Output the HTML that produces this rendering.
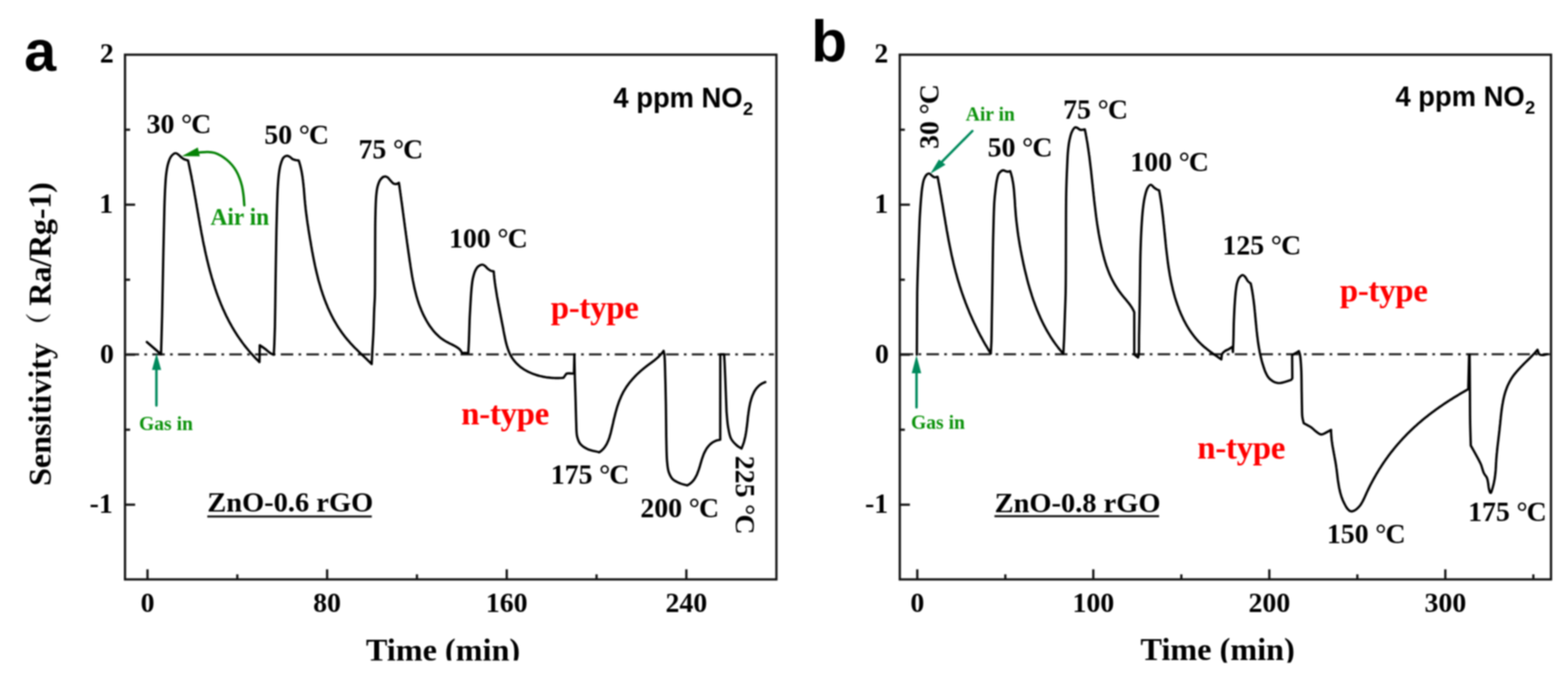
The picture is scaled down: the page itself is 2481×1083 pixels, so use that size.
<!DOCTYPE html>
<html lang="en">
<head>
<meta charset="utf-8">
<title>Sensitivity vs Time — ZnO-rGO NO2 sensing</title>
<style>
html, body { margin: 0; padding: 0; background: #ffffff; }
body { width: 2481px; height: 1083px; overflow: hidden; }
svg { display: block; filter: blur(0.8px); }
.s { font-family: "Liberation Serif", "Noto Serif CJK SC", serif; font-weight: bold; }
.h { font-family: "Liberation Sans", "DejaVu Sans", sans-serif; font-weight: bold; }
.tk { font-size: 44px; }
.lab { font-size: 44px; }
.ax { fill: none; stroke: #151515; stroke-width: 3.6; }
.tick { stroke: #151515; stroke-width: 3.6; }
.zero { stroke: #1e1e1e; stroke-width: 3.2; stroke-dasharray: 19.8 8.35 4.2 8.3; }
.curve { fill: none; stroke: #000000; stroke-width: 3.7; stroke-linejoin: round; stroke-linecap: round; }
.red { fill: #ff0000; }
.grn { fill: #0d930d; }
</style>
</head>
<body>
<svg width="2481" height="1083" viewBox="0 0 2481 1083">
<rect x="0" y="0" width="2481" height="1083" fill="#ffffff"/>

<!-- ===================== PANEL A ===================== -->
<g id="panel-a">
  <text class="h" x="38.3" y="111.8" font-size="91">a</text>

  <!-- zero line -->
  <line class="zero" x1="199.5" y1="561.2" x2="1224.5" y2="561.2" stroke-dashoffset="-0.8"/>

  <!-- data curve -->
  <path class="curve" d="M232.3,541.5 L254.8,561.0 C255.4,540.7 256.0,522.8 256.5,500.0 C257.2,470.8 257.8,430.4 258.5,400.0 C259.0,374.6 259.5,349.4 260.1,330.0 C260.5,316.2 260.9,304.5 261.5,294.6 C261.9,287.5 262.2,282.1 262.9,276.2 C263.6,270.7 264.3,265.3 265.6,260.5 C266.8,256.2 268.0,251.6 270.2,248.5 C272.1,245.8 275.4,242.7 277.6,242.5 C279.3,242.3 280.7,243.7 282.2,244.8 C284.1,246.1 286.1,248.6 287.8,249.9 C289.1,250.9 290.1,251.6 291.5,252.2 C293.2,253.0 295.5,253.4 297.5,254.0 L298.1,256.4 L298.6,258.8 L299.1,261.2 L299.6,263.6 L300.1,266.1 L300.6,268.5 L301.1,270.9 L301.6,273.3 L302.1,275.8 L302.6,278.2 L303.1,280.7 L303.5,283.1 L304.0,285.6 L304.5,288.0 L304.9,290.5 L305.4,293.0 L305.8,295.4 L306.3,297.9 L306.7,300.4 L307.2,302.9 L307.6,305.3 L308.0,307.8 L308.5,310.3 L308.9,312.8 L309.4,315.3 L309.8,317.8 L310.2,320.3 L310.7,322.8 L311.1,325.3 L311.5,327.8 L312.0,330.3 L312.4,332.8 L312.8,335.3 L313.3,337.8 L313.7,340.3 L314.1,342.8 L314.6,345.3 L315.0,347.8 L315.5,350.3 L315.9,352.8 L316.3,355.3 L316.8,357.8 L317.3,360.3 L317.7,362.8 L318.2,365.3 L318.6,367.8 L319.1,370.3 L319.6,372.8 L320.1,375.3 L320.6,377.8 L321.0,380.3 L321.5,382.8 L322.0,385.3 L322.5,387.7 L323.1,390.2 L323.6,392.7 L324.1,395.2 L324.6,397.7 L325.2,400.2 L325.7,402.6 L326.3,405.1 L326.9,407.6 L327.4,410.0 L328.0,412.5 L328.6,414.9 L329.2,417.4 L329.8,419.8 L330.4,422.3 L331.1,424.7 L331.7,427.2 L332.3,429.6 L333.0,432.0 L333.7,434.4 L334.4,436.9 L335.0,439.3 L335.7,441.7 L336.5,444.1 L337.2,446.5 L337.9,448.9 L338.7,451.3 L339.5,453.6 L340.2,456.0 L341.0,458.4 L341.8,460.7 L342.6,463.1 L343.5,465.5 L344.3,467.8 L345.2,470.1 L346.1,472.5 L347.0,474.8 L347.9,477.1 L348.8,479.4 L349.7,481.7 L350.7,484.0 L351.7,486.3 L352.6,488.6 L353.7,490.8 L354.7,493.1 L355.7,495.3 L356.8,497.6 L357.8,499.8 L358.9,502.0 L360.1,504.2 L361.2,506.5 L362.3,508.7 L363.5,510.8 L364.7,513.0 L365.9,515.2 L367.1,517.4 L368.4,519.5 L369.6,521.6 L370.9,523.8 L372.2,525.9 L373.6,528.0 L374.9,530.1 L376.3,532.2 L377.7,534.3 L379.1,536.3 L380.6,538.4 L382.0,540.4 L383.5,542.5 L385.0,544.5 L386.5,546.5 L388.1,548.5 L389.7,550.5 L391.3,552.4 L392.9,554.4 L394.6,556.4 L396.2,558.3 L398.0,560.2 L399.7,562.1 L401.4,564.0 L403.2,565.9 L405.0,567.8 L406.9,569.6 L408.7,571.5 L410.6,573.3 L411.0,546.5 C413.6,548.3 416.2,550.0 418.9,552.0 C421.9,554.2 425.4,557.7 428.1,559.4 C430.0,560.5 431.5,560.9 433.2,561.7 C433.5,556.0 433.8,551.0 434.1,544.6 C434.4,536.5 434.7,528.0 435.0,516.9 C435.4,500.0 435.6,472.3 435.9,452.9 C436.1,436.8 436.4,423.4 436.6,408.6 C436.9,393.8 437.1,378.1 437.4,364.3 C437.7,352.1 438.0,341.1 438.3,330.0 C438.6,319.5 438.9,308.8 439.4,299.3 C439.9,291.0 440.3,283.1 441.2,276.2 C441.9,270.4 442.6,265.2 444.0,260.5 C445.2,256.4 446.5,251.7 448.6,249.4 C450.1,247.7 452.4,246.7 454.2,246.6 C455.8,246.5 457.3,247.6 458.8,248.5 C460.4,249.4 461.8,251.4 463.4,252.2 C464.9,253.0 466.5,253.2 468.0,253.5 C469.5,253.8 471.1,253.8 472.6,254.0 L473.4,256.3 L474.1,258.7 L474.8,261.1 L475.4,263.5 L476.0,265.9 L476.5,268.3 L477.0,270.7 L477.5,273.1 L477.9,275.6 L478.3,278.0 L478.7,280.5 L479.0,283.0 L479.4,285.5 L479.6,287.9 L479.9,290.4 L480.2,292.9 L480.4,295.4 L480.7,297.9 L480.9,300.4 L481.1,302.9 L481.3,305.4 L481.5,308.0 L481.7,310.5 L481.9,313.0 L482.1,315.5 L482.4,318.0 L482.6,320.5 L482.8,323.0 L483.1,325.5 L483.4,328.0 L483.6,330.5 L483.9,333.0 L484.2,335.4 L484.5,337.9 L484.8,340.4 L485.2,342.9 L485.5,345.4 L485.8,347.8 L486.2,350.3 L486.5,352.8 L486.9,355.2 L487.3,357.7 L487.7,360.2 L488.0,362.7 L488.4,365.1 L488.8,367.6 L489.2,370.1 L489.6,372.5 L490.0,375.0 L490.4,377.5 L490.8,379.9 L491.3,382.4 L491.7,384.9 L492.1,387.4 L492.5,389.8 L493.0,392.3 L493.4,394.8 L493.8,397.3 L494.3,399.7 L494.8,402.2 L495.2,404.7 L495.7,407.2 L496.2,409.6 L496.7,412.1 L497.2,414.6 L497.7,417.0 L498.2,419.5 L498.7,421.9 L499.3,424.4 L499.8,426.8 L500.4,429.3 L501.0,431.7 L501.6,434.2 L502.2,436.6 L502.8,439.0 L503.4,441.5 L504.0,443.9 L504.7,446.3 L505.4,448.7 L506.1,451.1 L506.8,453.5 L507.5,455.9 L508.2,458.3 L509.0,460.7 L509.8,463.1 L510.5,465.5 L511.4,467.8 L512.2,470.2 L513.0,472.5 L513.9,474.9 L514.8,477.2 L515.7,479.5 L516.6,481.8 L517.6,484.1 L518.5,486.4 L519.5,488.7 L520.6,491.0 L521.6,493.2 L522.7,495.5 L523.7,497.7 L524.8,499.9 L526.0,502.1 L527.1,504.3 L528.3,506.5 L529.5,508.7 L530.8,510.8 L532.0,512.9 L533.3,515.1 L534.6,517.2 L535.9,519.3 L537.3,521.3 L538.7,523.4 L540.1,525.4 L541.5,527.4 L543.0,529.4 L544.5,531.4 L546.0,533.4 L547.6,535.3 L549.2,537.2 L550.8,539.1 L552.5,541.0 L554.1,542.9 L555.8,544.7 L557.5,546.5 L559.3,548.4 L561.0,550.2 L562.8,552.0 L564.6,553.7 L566.4,555.5 L568.2,557.3 L570.0,559.0 L571.8,560.8 L573.6,562.5 L575.4,564.2 L577.3,566.0 L579.1,567.7 L580.9,569.4 L582.7,571.2 L584.5,572.9 L586.3,574.7 L588.1,576.4 C588.5,568.6 588.9,561.2 589.3,553.1 C589.8,544.3 590.5,535.1 590.9,525.4 C591.4,514.8 591.6,502.2 592.0,492.2 C592.3,484.1 592.8,478.9 593.1,470.0 C593.5,456.7 593.4,435.7 593.5,420.0 C593.6,405.9 593.5,392.9 593.6,380.0 C593.7,367.9 593.6,356.6 593.9,345.0 C594.2,333.5 594.4,320.0 595.2,310.8 C595.8,304.5 596.2,299.8 597.5,295.1 C598.6,291.0 600.0,286.7 602.2,284.0 C603.9,281.8 606.6,279.7 608.6,279.4 C610.2,279.1 611.8,279.9 613.2,280.8 C614.9,281.9 616.3,284.3 617.9,285.9 C619.4,287.5 620.8,289.6 622.5,290.5 C623.9,291.3 625.6,291.6 627.1,291.4 C628.5,291.2 629.8,290.1 631.2,289.5 L631.6,292.0 L631.9,294.4 L632.3,296.9 L632.6,299.3 L633.0,301.8 L633.3,304.3 L633.7,306.7 L634.0,309.2 L634.4,311.7 L634.7,314.2 L635.0,316.7 L635.4,319.1 L635.7,321.6 L636.1,324.1 L636.4,326.6 L636.7,329.1 L637.1,331.6 L637.4,334.0 L637.7,336.5 L638.1,339.0 L638.4,341.5 L638.7,344.0 L639.1,346.5 L639.4,349.0 L639.7,351.5 L640.1,354.0 L640.4,356.5 L640.7,359.0 L641.1,361.5 L641.4,364.0 L641.8,366.5 L642.1,369.0 L642.4,371.5 L642.8,374.0 L643.1,376.5 L643.5,379.0 L643.8,381.5 L644.1,384.0 L644.5,386.4 L644.8,388.9 L645.2,391.4 L645.5,393.9 L645.9,396.4 L646.2,398.9 L646.6,401.4 L647.0,403.9 L647.3,406.4 L647.7,408.9 L648.0,411.4 L648.4,413.9 L648.8,416.3 L649.2,418.8 L649.5,421.3 L649.9,423.8 L650.3,426.3 L650.7,428.7 L651.1,431.2 L651.5,433.7 L651.9,436.2 L652.3,438.6 L652.8,441.1 L653.2,443.5 L653.7,446.0 L654.2,448.4 L654.7,450.9 L655.2,453.3 L655.7,455.8 L656.3,458.2 L656.9,460.6 L657.5,463.0 L658.1,465.4 L658.7,467.8 L659.4,470.2 L660.1,472.6 L660.8,475.0 L661.6,477.4 L662.4,479.8 L663.2,482.1 L664.1,484.5 L664.9,486.8 L665.9,489.1 L666.8,491.5 L667.8,493.8 L668.8,496.1 L669.9,498.4 L671.0,500.7 L672.2,502.9 L673.4,505.2 L674.6,507.4 L675.9,509.6 L677.2,511.8 L678.6,514.0 L680.0,516.1 L681.5,518.2 L683.0,520.2 L684.5,522.2 L686.1,524.2 L687.8,526.1 L689.5,527.9 L691.3,529.7 L693.1,531.4 L694.9,533.1 L696.8,534.7 L698.8,536.2 L700.8,537.6 L702.9,539.0 L705.0,540.3 L707.2,541.5 L709.4,542.6 L711.6,543.8 L713.9,544.9 L716.1,546.0 L718.3,547.1 L720.5,548.3 L722.6,549.6 L724.7,551.0 L726.6,552.5 L728.3,554.3 L729.7,556.3 L730.9,558.6 L740.9,559.2 C741.3,552.4 741.7,546.4 742.0,538.7 C742.4,528.9 742.7,515.1 743.1,505.4 C743.4,497.8 743.8,492.4 744.2,485.0 C744.7,476.3 745.3,464.8 746.1,456.7 C746.7,450.5 747.2,445.4 748.3,440.5 C749.3,436.2 750.4,431.9 752.0,428.6 C753.3,426.0 754.5,423.6 756.4,422.0 C758.2,420.5 761.1,419.0 763.1,419.0 C764.7,419.0 766.1,420.2 767.5,421.2 C769.1,422.3 770.4,424.4 771.9,425.7 C773.3,426.9 774.8,427.9 776.4,428.6 C777.9,429.2 779.6,429.3 781.2,429.7 L781.4,432.2 L781.6,434.7 L781.9,437.2 L782.1,439.7 L782.4,442.3 L782.7,444.8 L783.0,447.3 L783.4,449.8 L783.7,452.3 L784.1,454.8 L784.5,457.3 L784.9,459.8 L785.3,462.3 L785.7,464.8 L786.1,467.3 L786.5,469.8 L787.0,472.3 L787.4,474.7 L787.9,477.2 L788.3,479.6 L788.8,482.0 L789.2,484.4 L789.7,486.8 L790.1,489.2 L790.6,491.6 L791.0,494.0 L791.5,496.4 L792.0,498.8 L792.4,501.2 L792.9,503.6 L793.4,506.1 L793.8,508.5 L794.3,510.9 L794.8,513.4 L795.3,515.9 L795.8,518.4 L796.3,520.9 L796.7,523.5 L797.2,526.0 L797.7,528.7 L798.3,531.3 L798.8,533.9 L799.3,536.5 L799.9,539.2 L800.5,541.8 L801.2,544.4 L801.9,547.0 L802.7,549.6 L803.5,552.1 L804.4,554.6 L805.3,557.0 L806.3,559.3 L807.4,561.6 L808.6,563.8 L809.9,566.0 L811.2,568.0 L812.7,570.0 L814.2,571.9 L815.8,573.8 L817.5,575.6 L819.2,577.2 L821.0,578.9 L822.8,580.4 L824.8,581.9 L826.7,583.3 L828.8,584.7 L830.9,586.0 L833.0,587.2 L835.2,588.3 L837.4,589.4 L839.7,590.4 L842.0,591.4 L844.3,592.3 L846.7,593.1 L849.1,593.9 L851.5,594.6 L853.9,595.3 L856.4,595.8 L858.9,596.4 L861.4,596.8 L863.9,597.3 L866.4,597.6 L869.0,597.9 L871.5,598.2 L874.0,598.3 L876.6,598.5 L879.1,598.6 L881.6,598.6 L884.2,598.6 L886.7,598.5 L889.1,598.4 L891.6,598.2 L895.0,593.2 C895.5,592.6 895.7,591.9 896.6,591.5 C898.6,590.6 904.3,591.5 908.2,591.5 L908.8,561.0 C909.1,573.9 909.3,587.4 909.6,599.8 C909.9,611.3 910.4,621.9 910.7,633.0 C911.0,644.1 911.3,655.2 911.6,666.3 C912.1,674.6 911.6,684.6 913.2,691.2 C914.3,695.9 915.6,699.5 918.2,702.8 C921.0,706.3 925.3,708.9 929.8,711.1 C935.0,713.6 942.0,714.4 948.1,716.1 L950.2,714.7 L952.1,713.2 L953.9,711.5 L955.5,709.7 L957.0,707.8 L958.3,705.8 L959.6,703.7 L960.7,701.6 L961.7,699.3 L962.7,697.0 L963.6,694.7 L964.4,692.3 L965.1,689.8 L965.8,687.4 L966.5,684.9 L967.1,682.3 L967.7,679.8 L968.3,677.3 L968.9,674.7 L969.5,672.1 L970.1,669.6 L970.6,667.1 L971.2,664.5 L971.8,662.0 L972.5,659.5 L973.1,657.0 L973.7,654.5 L974.4,652.0 L975.1,649.5 L975.8,647.0 L976.5,644.6 L977.3,642.2 L978.1,639.8 L978.9,637.4 L979.8,635.0 L980.7,632.7 L981.7,630.4 L982.7,628.1 L983.7,625.8 L984.8,623.6 L985.9,621.4 L987.1,619.2 L988.4,617.1 L989.7,615.0 L991.0,612.9 L992.4,610.9 L993.9,608.8 L995.3,606.9 L996.9,604.9 L998.5,603.0 L1000.1,601.1 L1001.7,599.2 L1003.4,597.4 L1005.1,595.6 L1006.9,593.8 L1008.7,592.0 L1010.5,590.3 L1012.4,588.6 L1014.3,586.9 L1016.2,585.3 L1018.1,583.7 L1020.1,582.1 L1022.1,580.5 L1024.1,579.0 L1026.1,577.4 L1028.1,575.9 L1030.2,574.4 L1032.2,572.9 L1034.2,571.4 L1036.2,569.9 L1038.1,568.3 L1040.0,566.7 L1041.9,565.0 L1043.6,563.2 L1045.4,561.4 L1047.0,559.6 L1048.5,557.6 L1050.0,555.5 C1050.4,557.7 1050.9,559.0 1051.3,562.2 C1052.2,569.6 1052.3,587.2 1052.7,600.0 C1053.1,613.1 1053.4,625.8 1053.6,640.0 C1053.9,656.1 1054.0,674.5 1054.2,691.7 C1054.6,704.6 1054.5,720.3 1055.5,730.5 C1056.1,737.3 1056.4,742.4 1058.1,747.3 C1059.6,751.7 1061.6,755.9 1064.6,758.9 C1067.6,761.9 1072.3,763.8 1076.2,765.4 C1079.8,766.9 1083.5,767.5 1087.2,768.6 L1089.5,767.4 L1091.6,766.0 L1093.5,764.5 L1095.3,762.8 L1096.9,761.0 L1098.4,759.1 L1099.7,757.0 L1100.9,754.9 L1102.1,752.7 L1103.1,750.4 L1104.0,748.0 L1104.9,745.6 L1105.8,743.1 L1106.6,740.6 L1107.4,738.1 L1108.1,735.5 L1108.9,732.9 L1109.6,730.4 L1110.4,727.8 L1111.2,725.3 L1112.1,722.8 L1113.0,720.3 L1114.0,717.9 L1115.1,715.6 L1116.3,713.3 L1117.6,711.1 L1118.9,709.1 L1120.4,707.1 L1122.0,705.2 L1123.7,703.5 L1125.5,702.0 L1127.5,700.5 L1129.6,699.3 L1131.9,698.2 L1134.3,697.3 L1136.9,696.7 L1139.6,696.2 L1139.7,561.0 L1145.7,561.0 C1146.0,565.2 1146.2,568.2 1146.5,573.6 C1147.0,583.1 1147.6,599.7 1148.1,612.8 C1148.6,625.9 1149.1,639.0 1149.6,652.1 C1150.4,659.9 1150.7,668.2 1152.0,675.6 C1153.2,682.3 1154.0,689.3 1156.7,694.5 C1159.0,699.0 1163.0,702.8 1166.1,705.5 C1168.5,707.6 1170.8,708.6 1173.2,710.2 L1174.2,707.9 L1175.1,705.6 L1176.0,703.2 L1176.8,700.8 L1177.5,698.4 L1178.1,696.0 L1178.7,693.5 L1179.3,691.1 L1179.7,688.6 L1180.2,686.1 L1180.6,683.5 L1181.0,681.0 L1181.3,678.4 L1181.7,675.9 L1182.0,673.3 L1182.3,670.7 L1182.6,668.1 L1182.9,665.6 L1183.1,663.0 L1183.4,660.4 L1183.7,657.8 L1184.1,655.3 L1184.4,652.7 L1184.8,650.2 L1185.2,647.6 L1185.6,645.1 L1186.1,642.6 L1186.6,640.1 L1187.1,637.6 L1187.8,635.2 L1188.4,632.8 L1189.2,630.4 L1190.0,628.0 L1190.9,625.7 L1191.9,623.4 L1192.9,621.2 L1194.1,619.0 L1195.4,617.0 L1196.8,615.0 L1198.4,613.2 L1200.1,611.4 L1201.9,609.8 L1203.9,608.4 L1206.0,607.1 L1208.4,606.0 L1210.9,605.0"/>

  <!-- frame -->
  <rect class="ax" x="197.8" y="86.6" width="1030.7" height="830.8"/>

  <!-- y ticks -->
  <g class="tick">
    <line x1="197.8" y1="324.1" x2="213.8" y2="324.1"/>
    <line x1="197.8" y1="561.6" x2="213.8" y2="561.6"/>
    <line x1="197.8" y1="799.1" x2="213.8" y2="799.1"/>
    <line x1="197.8" y1="205.4" x2="205.8" y2="205.4"/>
    <line x1="197.8" y1="442.9" x2="205.8" y2="442.9"/>
    <line x1="197.8" y1="680.4" x2="205.8" y2="680.4"/>
  </g>
  <!-- x ticks -->
  <g class="tick">
    <line x1="233.4" y1="917.4" x2="233.4" y2="901.4"/>
    <line x1="517.6" y1="917.4" x2="517.6" y2="901.4"/>
    <line x1="801.8" y1="917.4" x2="801.8" y2="901.4"/>
    <line x1="1086.0" y1="917.4" x2="1086.0" y2="901.4"/>
    <line x1="375.5" y1="917.4" x2="375.5" y2="909.4"/>
    <line x1="659.7" y1="917.4" x2="659.7" y2="909.4"/>
    <line x1="943.9" y1="917.4" x2="943.9" y2="909.4"/>
  </g>

  <!-- tick labels -->
  <g class="s tk" text-anchor="end">
    <text x="180" y="99.2">2</text>
    <text x="179" y="337">1</text>
    <text x="180.2" y="574.6">0</text>
    <text x="178.5" y="811.6">-1</text>
  </g>
  <g class="s tk" text-anchor="middle">
    <text x="233.4" y="969">0</text>
    <text x="517.6" y="969">80</text>
    <text x="801.8" y="969">160</text>
    <text x="1086" y="969">240</text>
  </g>

  <!-- axis titles -->
  <text class="s" x="701" y="1045.6" font-size="51" text-anchor="middle">Time (min)</text>
  <text class="s" font-size="51" transform="translate(79.5,769.6) rotate(-90)">Sensitivity<tspan font-family="Noto Serif CJK SC, serif" font-size="41" dy="-3.5" dx="7">（</tspan><tspan dy="3.5" dx="11" letter-spacing="-0.4">Ra/Rg-1)</tspan></text>

  <!-- annotations -->
  <g transform="translate(970.6,169.6) scale(1,1.03)"><text class="h" x="0" y="0" font-size="43.3">4 ppm NO<tspan font-size="29" dy="11.6" dx="0.6">2</tspan></text></g>
  <g class="s lab">
    <text x="231.9" y="211.2">30 <tspan dx="-0.5">°</tspan><tspan dx="-1.5">C</tspan></text>
    <text x="418.2" y="227.5">50 <tspan dx="-0.5">°</tspan><tspan dx="-1.5">C</tspan></text>
    <text x="567.2" y="250.7">75 <tspan dx="-0.5">°</tspan><tspan dx="-1.5">C</tspan></text>
    <text x="710.6" y="392.2">100 <tspan dx="-0.5">°</tspan><tspan dx="-1.5">C</tspan></text>
    <text x="871.4" y="766">175 <tspan dx="-0.5">°</tspan><tspan dx="-1.5">C</tspan></text>
    <text x="1013.3" y="819.4">200 <tspan dx="-0.5">°</tspan><tspan dx="-1.5">C</tspan></text>
    <text transform="translate(1163.5,721.8) rotate(90)">225 <tspan dx="-0.5">°</tspan><tspan dx="-1.5">C</tspan></text>
  </g>
  <text class="s red" x="871.5" y="503.6" font-size="52" letter-spacing="-0.45">p-type</text>
  <text class="s red" x="729.8" y="672.2" font-size="52" letter-spacing="-0.45">n-type</text>
  <text class="s" x="328" y="810.2" font-size="45">ZnO-0.6 rGO</text>
  <rect x="328" y="816.2" width="260.3" height="3.2" fill="#111111"/>

  <!-- Air in (green) -->
  <path d="M386.6,325.0 C386.1,319.5 385.9,313.8 385.2,308.5 C384.6,303.7 383.9,299.0 382.9,294.6 C381.9,290.4 380.7,286.6 379.2,282.6 C377.7,278.5 375.8,274.2 373.7,270.6 C371.8,267.2 369.6,264.3 367.2,261.4 C364.7,258.4 361.9,255.6 358.9,253.1 C356.0,250.7 352.9,248.5 349.7,246.6 C346.5,244.8 343.0,243.0 339.5,242.0 C336.0,241.0 332.5,240.7 328.5,240.6 C323.8,240.5 318.2,241.3 313.0,241.6" fill="none" stroke="#058305" stroke-width="3.8" stroke-linecap="round"/>
  <polygon points="287.8,247.3 313,233.5 316.1,247.4" fill="#058305"/>
  <text class="s grn" x="333" y="356.2" font-size="37">Air in</text>

  <!-- Gas in (teal) -->
  <line x1="247.5" y1="642" x2="247.5" y2="583" stroke="#008a5c" stroke-width="3.9" stroke-linecap="round"/>
  <polygon points="247.7,559.4 240.5,585.7 255,585.7" fill="#008a5c"/>
  <text class="s grn" x="220" y="681.3" font-size="31">Gas in</text>
</g>

<!-- ===================== PANEL B ===================== -->
<g id="panel-b">
  <text class="h" x="1283.4" y="96.6" font-size="93">b</text>

  <line class="zero" x1="1425" y1="560.8" x2="2452.6" y2="560.8" stroke-dashoffset="-0.25"/>

  <path class="curve" d="M1450.7,561.5 C1450.9,528.8 1450.9,489.5 1451.3,463.4 C1451.6,446.0 1452.0,434.3 1452.5,419.9 C1452.9,405.8 1453.5,391.5 1454.0,378.0 C1454.5,365.3 1454.9,351.9 1455.5,341.2 C1456.0,332.9 1456.4,326.4 1457.0,319.0 C1457.6,311.6 1458.2,303.3 1459.2,296.9 C1460.0,291.9 1460.6,287.3 1462.1,283.6 C1463.3,280.7 1464.9,277.6 1466.6,276.2 C1467.7,275.2 1469.1,274.6 1470.3,274.8 C1471.6,275.0 1472.7,276.7 1474.0,277.7 C1475.4,278.7 1476.8,280.3 1478.4,280.7 C1480.0,281.1 1481.8,280.2 1483.5,279.9 L1484.0,282.4 L1484.5,284.8 L1484.9,287.3 L1485.4,289.7 L1485.8,292.2 L1486.3,294.7 L1486.7,297.2 L1487.2,299.6 L1487.6,302.1 L1488.0,304.6 L1488.4,307.1 L1488.9,309.5 L1489.3,312.0 L1489.7,314.5 L1490.1,317.0 L1490.5,319.5 L1491.0,322.0 L1491.4,324.4 L1491.8,326.9 L1492.2,329.4 L1492.6,331.9 L1493.0,334.4 L1493.4,336.9 L1493.8,339.4 L1494.2,341.9 L1494.7,344.4 L1495.1,346.9 L1495.5,349.3 L1495.9,351.8 L1496.3,354.3 L1496.8,356.8 L1497.2,359.3 L1497.6,361.8 L1498.0,364.3 L1498.5,366.8 L1498.9,369.2 L1499.4,371.7 L1499.8,374.2 L1500.3,376.7 L1500.7,379.2 L1501.2,381.7 L1501.7,384.1 L1502.2,386.6 L1502.7,389.1 L1503.2,391.6 L1503.7,394.0 L1504.2,396.5 L1504.7,399.0 L1505.2,401.4 L1505.7,403.9 L1506.3,406.4 L1506.8,408.8 L1507.4,411.3 L1508.0,413.7 L1508.5,416.2 L1509.1,418.6 L1509.7,421.1 L1510.3,423.5 L1511.0,425.9 L1511.6,428.4 L1512.2,430.8 L1512.9,433.2 L1513.6,435.6 L1514.2,438.1 L1514.9,440.5 L1515.6,442.9 L1516.3,445.3 L1517.1,447.7 L1517.8,450.1 L1518.5,452.5 L1519.3,454.9 L1520.1,457.3 L1520.8,459.6 L1521.6,462.0 L1522.4,464.4 L1523.3,466.8 L1524.1,469.1 L1524.9,471.5 L1525.8,473.9 L1526.7,476.2 L1527.5,478.6 L1528.4,480.9 L1529.3,483.2 L1530.2,485.6 L1531.2,487.9 L1532.1,490.2 L1533.1,492.6 L1534.0,494.9 L1535.0,497.2 L1536.0,499.5 L1537.0,501.8 L1538.0,504.1 L1539.0,506.4 L1540.1,508.7 L1541.1,511.0 L1542.2,513.2 L1543.3,515.5 L1544.4,517.8 L1545.5,520.0 L1546.6,522.3 L1547.7,524.6 L1548.9,526.8 L1550.0,529.0 L1551.2,531.3 L1552.4,533.5 L1553.6,535.7 L1554.8,537.9 L1556.0,540.2 L1557.3,542.4 L1558.5,544.6 L1559.8,546.8 L1561.1,548.9 L1562.4,551.1 L1563.7,553.3 L1565.0,555.5 L1566.4,557.6 L1567.7,559.8 C1568.0,553.6 1568.4,548.9 1568.7,541.3 C1569.1,529.2 1569.2,509.9 1569.5,494.2 C1569.8,478.5 1570.0,462.8 1570.3,447.1 C1570.5,431.4 1570.7,416.3 1571.0,400.0 C1571.3,382.4 1571.8,359.8 1572.3,345.0 C1572.6,335.0 1572.8,327.7 1573.3,320.0 C1573.7,313.4 1574.3,307.6 1575.0,301.7 C1575.7,296.1 1576.2,290.4 1577.3,285.5 C1578.2,281.4 1578.8,277.1 1580.7,274.4 C1582.3,272.1 1585.4,269.9 1587.3,269.6 C1588.7,269.4 1589.8,270.6 1591.0,271.0 C1592.2,271.4 1593.5,271.8 1594.7,271.8 C1595.9,271.8 1597.2,271.3 1598.4,271.0 L1599.2,273.3 L1599.9,275.6 L1600.5,277.9 L1601.1,280.3 L1601.7,282.7 L1602.1,285.1 L1602.6,287.6 L1603.0,290.0 L1603.4,292.5 L1603.7,295.0 L1604.0,297.5 L1604.3,300.0 L1604.5,302.5 L1604.7,305.0 L1604.9,307.6 L1605.1,310.1 L1605.3,312.6 L1605.5,315.2 L1605.7,317.7 L1605.8,320.3 L1606.0,322.9 L1606.1,325.4 L1606.3,327.9 L1606.5,330.5 L1606.7,333.0 L1606.9,335.5 L1607.1,338.1 L1607.3,340.6 L1607.5,343.1 L1607.8,345.6 L1608.0,348.1 L1608.3,350.6 L1608.6,353.1 L1608.9,355.5 L1609.2,358.0 L1609.5,360.5 L1609.8,363.0 L1610.1,365.4 L1610.4,367.9 L1610.8,370.4 L1611.1,372.8 L1611.5,375.3 L1611.9,377.7 L1612.3,380.2 L1612.7,382.6 L1613.1,385.1 L1613.5,387.5 L1613.9,390.0 L1614.4,392.4 L1614.8,394.8 L1615.3,397.3 L1615.7,399.7 L1616.2,402.2 L1616.7,404.6 L1617.2,407.0 L1617.7,409.5 L1618.2,411.9 L1618.7,414.4 L1619.2,416.8 L1619.7,419.3 L1620.3,421.7 L1620.8,424.2 L1621.4,426.6 L1622.0,429.1 L1622.6,431.5 L1623.2,434.0 L1623.8,436.4 L1624.4,438.9 L1625.0,441.3 L1625.6,443.8 L1626.3,446.2 L1626.9,448.7 L1627.6,451.1 L1628.3,453.5 L1629.0,456.0 L1629.7,458.4 L1630.5,460.8 L1631.2,463.2 L1632.0,465.6 L1632.7,468.1 L1633.5,470.5 L1634.3,472.9 L1635.1,475.3 L1636.0,477.6 L1636.8,480.0 L1637.7,482.4 L1638.6,484.8 L1639.5,487.1 L1640.4,489.5 L1641.3,491.8 L1642.3,494.1 L1643.3,496.5 L1644.3,498.8 L1645.3,501.1 L1646.3,503.4 L1647.3,505.6 L1648.4,507.9 L1649.5,510.2 L1650.6,512.4 L1651.7,514.7 L1652.9,516.9 L1654.1,519.1 L1655.3,521.3 L1656.5,523.5 L1657.7,525.6 L1659.0,527.8 L1660.3,529.9 L1661.6,532.1 L1662.9,534.2 L1664.3,536.3 L1665.6,538.4 L1667.0,540.4 L1668.5,542.5 L1669.9,544.5 L1671.4,546.5 L1672.9,548.5 L1674.4,550.5 L1676.0,552.5 L1677.6,554.4 L1679.2,556.3 L1680.8,558.2 L1682.5,560.1 C1682.9,552.1 1683.3,544.9 1683.7,536.1 C1684.1,525.3 1684.5,512.1 1684.9,500.1 C1685.3,488.1 1685.8,476.6 1686.1,464.0 C1686.4,450.1 1686.4,434.3 1686.5,420.0 C1686.6,406.3 1686.5,395.3 1686.6,380.0 C1686.7,359.5 1686.6,329.2 1687.0,308.1 C1687.3,291.6 1687.9,276.5 1688.5,263.8 C1688.9,254.3 1689.2,246.1 1689.9,238.7 C1690.5,232.7 1691.0,227.6 1692.1,222.5 C1693.1,217.8 1694.1,212.9 1695.8,209.2 C1697.2,206.2 1699.2,202.5 1701.0,201.8 C1702.2,201.3 1703.5,202.0 1704.7,202.5 C1706.2,203.1 1707.6,205.0 1709.1,205.5 C1710.3,205.9 1711.6,205.6 1712.8,205.5 C1714.0,205.4 1715.3,205.0 1716.5,204.8 L1717.0,207.3 L1717.5,209.7 L1718.0,212.2 L1718.4,214.6 L1718.9,217.1 L1719.3,219.6 L1719.7,222.0 L1720.2,224.5 L1720.6,227.0 L1721.0,229.4 L1721.3,231.9 L1721.7,234.4 L1722.1,236.9 L1722.4,239.3 L1722.8,241.8 L1723.1,244.3 L1723.5,246.8 L1723.8,249.3 L1724.1,251.7 L1724.4,254.2 L1724.7,256.7 L1725.0,259.2 L1725.3,261.7 L1725.6,264.2 L1725.9,266.7 L1726.2,269.1 L1726.5,271.6 L1726.7,274.1 L1727.0,276.6 L1727.3,279.1 L1727.5,281.6 L1727.8,284.1 L1728.1,286.6 L1728.3,289.1 L1728.6,291.6 L1728.9,294.1 L1729.1,296.5 L1729.4,299.0 L1729.6,301.5 L1729.9,304.0 L1730.2,306.5 L1730.4,309.0 L1730.7,311.5 L1731.0,314.0 L1731.2,316.5 L1731.5,319.0 L1731.8,321.5 L1732.1,323.9 L1732.4,326.4 L1732.7,328.9 L1733.0,331.4 L1733.3,333.9 L1733.6,336.4 L1733.9,338.9 L1734.2,341.3 L1734.5,343.8 L1734.9,346.3 L1735.2,348.8 L1735.6,351.3 L1735.9,353.7 L1736.3,356.2 L1736.7,358.7 L1737.1,361.2 L1737.5,363.6 L1737.9,366.1 L1738.3,368.6 L1738.7,371.0 L1739.2,373.5 L1739.6,376.0 L1740.1,378.4 L1740.6,380.9 L1741.1,383.3 L1741.6,385.8 L1742.1,388.2 L1742.6,390.7 L1743.2,393.1 L1743.7,395.6 L1744.3,398.0 L1744.9,400.4 L1745.5,402.9 L1746.1,405.3 L1746.8,407.7 L1747.4,410.2 L1748.1,412.6 L1748.8,415.0 L1749.6,417.4 L1750.3,419.8 L1751.1,422.2 L1752.0,424.5 L1752.8,426.9 L1753.7,429.2 L1754.6,431.6 L1755.6,433.9 L1756.6,436.2 L1757.6,438.4 L1758.7,440.7 L1759.8,442.9 L1761.0,445.2 L1762.2,447.4 L1763.4,449.5 L1764.7,451.7 L1766.0,453.8 L1767.3,455.9 L1768.7,458.0 L1770.1,460.1 L1771.6,462.1 L1773.1,464.1 L1774.6,466.1 L1776.2,468.1 L1777.8,470.1 L1779.4,472.0 L1781.0,473.9 L1782.6,475.8 L1784.2,477.8 L1785.7,479.7 L1787.2,481.7 L1788.7,483.7 L1790.1,485.7 L1791.4,487.8 L1792.6,489.9 L1793.7,492.1 L1794.7,494.4 L1794.7,561.4 C1795.6,562.1 1796.4,562.7 1797.3,563.4 C1798.4,564.2 1799.6,565.1 1800.8,566.0 C1801.1,564.5 1801.5,563.6 1801.8,561.4 C1802.5,555.7 1802.1,542.4 1802.3,530.9 C1802.6,516.1 1803.0,496.0 1803.3,480.0 C1803.5,465.8 1803.7,453.4 1803.9,439.9 C1804.1,426.1 1804.2,411.6 1804.6,398.1 C1805.0,385.4 1805.4,372.8 1806.1,361.2 C1806.7,350.8 1807.3,340.5 1808.3,331.7 C1809.1,324.6 1809.9,318.4 1811.2,312.5 C1812.4,307.2 1813.6,301.2 1815.7,297.7 C1817.1,295.3 1819.1,292.6 1820.8,292.5 C1822.5,292.4 1824.3,295.7 1826.0,297.0 C1827.5,298.1 1829.0,299.1 1830.4,299.9 C1831.7,300.6 1832.9,300.9 1834.1,301.4 L1834.5,303.8 L1835.0,306.2 L1835.4,308.7 L1835.8,311.1 L1836.2,313.6 L1836.6,316.0 L1836.9,318.5 L1837.3,320.9 L1837.6,323.4 L1838.0,325.8 L1838.3,328.3 L1838.6,330.8 L1838.9,333.3 L1839.2,335.7 L1839.5,338.2 L1839.8,340.7 L1840.1,343.2 L1840.4,345.7 L1840.6,348.2 L1840.9,350.7 L1841.1,353.2 L1841.4,355.7 L1841.7,358.2 L1841.9,360.7 L1842.2,363.2 L1842.4,365.7 L1842.7,368.3 L1842.9,370.8 L1843.2,373.3 L1843.4,375.8 L1843.7,378.3 L1843.9,380.8 L1844.2,383.3 L1844.4,385.9 L1844.7,388.4 L1844.9,390.9 L1845.2,393.4 L1845.5,395.9 L1845.8,398.4 L1846.1,400.9 L1846.4,403.4 L1846.7,405.9 L1847.0,408.4 L1847.3,410.9 L1847.6,413.4 L1847.9,415.9 L1848.3,418.4 L1848.6,420.9 L1849.0,423.4 L1849.4,425.9 L1849.8,428.4 L1850.2,430.8 L1850.6,433.3 L1851.0,435.8 L1851.5,438.2 L1851.9,440.7 L1852.4,443.1 L1852.9,445.6 L1853.4,448.0 L1854.0,450.5 L1854.5,452.9 L1855.1,455.3 L1855.6,457.8 L1856.2,460.2 L1856.9,462.6 L1857.5,465.0 L1858.2,467.4 L1858.8,469.8 L1859.5,472.1 L1860.3,474.5 L1861.0,476.9 L1861.8,479.2 L1862.6,481.6 L1863.4,483.9 L1864.3,486.2 L1865.1,488.6 L1866.0,490.9 L1867.0,493.2 L1867.9,495.5 L1868.9,497.8 L1869.9,500.0 L1871.0,502.3 L1872.0,504.5 L1873.1,506.8 L1874.3,509.0 L1875.4,511.2 L1876.6,513.3 L1877.8,515.5 L1879.1,517.6 L1880.4,519.7 L1881.7,521.8 L1883.1,523.9 L1884.5,525.9 L1885.9,527.9 L1887.4,529.9 L1888.9,531.9 L1890.4,533.8 L1892.0,535.7 L1893.6,537.6 L1895.3,539.4 L1896.9,541.2 L1898.7,543.0 L1900.5,544.8 L1902.3,546.5 L1904.1,548.1 L1906.0,549.8 L1907.9,551.3 L1909.9,552.9 L1911.9,554.5 L1913.9,556.0 L1915.9,557.5 L1918.0,558.9 L1920.1,560.4 L1922.1,561.9 L1924.2,563.3 L1926.3,564.8 L1928.3,566.2 L1930.4,567.6 L1932.4,569.1 C1932.9,566.1 1932.7,562.5 1933.9,560.2 C1934.9,558.3 1936.6,557.0 1938.3,555.8 C1940.0,554.5 1942.3,553.9 1944.2,552.8 C1946.2,551.7 1948.1,550.4 1950.1,549.2 L1950.8,557.3 C1951.1,550.9 1951.4,545.2 1951.6,538.1 C1951.9,529.3 1951.9,518.4 1952.3,508.6 C1952.7,498.7 1953.2,487.6 1953.8,479.0 C1954.3,472.3 1954.6,466.8 1955.3,461.3 C1955.9,456.5 1956.4,451.9 1957.5,448.0 C1958.5,444.7 1959.5,441.4 1961.2,439.2 C1962.6,437.5 1964.7,435.5 1966.3,435.5 C1967.9,435.5 1969.5,437.7 1970.8,439.2 C1972.2,440.8 1973.0,443.5 1974.4,445.1 C1975.7,446.6 1977.4,447.6 1978.9,448.8 L1979.5,451.3 L1980.0,453.7 L1980.5,456.2 L1980.9,458.7 L1981.4,461.2 L1981.8,463.7 L1982.2,466.2 L1982.6,468.7 L1982.9,471.2 L1983.3,473.7 L1983.6,476.2 L1983.9,478.7 L1984.2,481.2 L1984.5,483.7 L1984.8,486.2 L1985.0,488.7 L1985.3,491.2 L1985.5,493.7 L1985.8,496.2 L1986.0,498.7 L1986.2,501.3 L1986.5,503.8 L1986.7,506.3 L1986.9,508.8 L1987.2,511.3 L1987.4,513.8 L1987.7,516.4 L1987.9,518.9 L1988.2,521.4 L1988.4,523.9 L1988.7,526.4 L1989.0,528.9 L1989.2,531.4 L1989.6,533.9 L1989.9,536.4 L1990.2,538.9 L1990.5,541.4 L1990.9,543.9 L1991.3,546.4 L1991.7,548.9 L1992.1,551.4 L1992.6,553.9 L1993.0,556.4 L1993.5,558.9 L1994.1,561.4 L1994.6,563.8 L1995.2,566.3 L1995.8,568.8 L1996.4,571.2 L1997.1,573.7 L1997.8,576.2 L1998.6,578.6 L1999.3,581.0 L2000.2,583.5 L2001.0,585.9 L2001.9,588.3 L2003.0,590.7 L2004.1,592.9 L2005.3,595.1 L2006.7,597.2 L2008.3,599.1 L2010.1,600.8 L2012.1,602.4 L2014.2,603.8 L2016.4,604.9 L2018.8,605.7 L2021.2,606.3 L2023.7,606.5 L2026.2,606.3 L2028.7,605.9 L2031.3,605.2 L2033.8,604.5 L2036.2,603.7 L2038.6,602.9 L2040.9,602.3 L2043.1,601.4 L2044.8,599.1 L2044.5,562.2 C2046.3,561.2 2048.2,560.3 2050.0,559.2 C2051.8,558.2 2053.5,557.0 2055.2,555.9 C2055.8,558.0 2056.5,559.4 2057.0,562.2 C2057.9,567.3 2058.5,576.0 2058.9,584.3 C2059.5,594.8 2059.4,609.5 2059.6,620.0 C2059.8,628.3 2059.8,635.1 2060.0,642.2 C2060.2,648.6 2060.0,655.5 2060.7,660.6 C2061.2,664.3 2062.2,667.0 2062.9,670.2 C2064.8,671.2 2066.6,672.1 2068.5,673.2 C2070.6,674.4 2073.0,675.4 2075.1,676.9 C2077.4,678.5 2079.3,681.0 2081.8,682.8 C2084.4,684.7 2087.7,687.7 2090.6,687.9 C2093.1,688.1 2095.5,686.2 2098.0,685.0 C2100.7,683.8 2103.4,682.1 2106.1,680.6 L2106.1,683.1 L2106.2,685.6 L2106.4,688.2 L2106.5,690.7 L2106.8,693.2 L2107.0,695.7 L2107.3,698.2 L2107.7,700.7 L2108.0,703.2 L2108.4,705.7 L2108.8,708.1 L2109.3,710.6 L2109.7,713.1 L2110.2,715.6 L2110.6,718.1 L2111.1,720.5 L2111.5,723.0 L2112.0,725.5 L2112.4,728.0 L2112.9,730.4 L2113.3,732.9 L2113.7,735.4 L2114.1,737.9 L2114.4,740.3 L2114.8,742.8 L2115.1,745.3 L2115.4,747.8 L2115.7,750.2 L2116.0,752.7 L2116.3,755.2 L2116.6,757.7 L2116.9,760.1 L2117.3,762.6 L2117.7,765.1 L2118.1,767.5 L2118.5,770.0 L2118.9,772.4 L2119.5,774.9 L2120.0,777.3 L2120.6,779.8 L2121.3,782.2 L2122.0,784.6 L2122.8,787.1 L2123.7,789.5 L2124.6,791.9 L2125.7,794.3 L2126.8,796.7 L2128.0,799.0 L2129.3,801.4 L2130.7,803.7 L2132.2,805.8 L2133.9,807.6 L2135.7,808.9 L2137.7,809.6 L2139.9,809.6 L2142.2,808.8 L2144.5,807.5 L2146.7,805.9 L2148.6,804.2 L2150.4,802.3 L2152.0,800.3 L2153.5,798.3 L2154.8,796.1 L2156.1,793.9 L2157.2,791.7 L2158.3,789.4 L2159.4,787.0 L2160.4,784.7 L2161.5,782.4 L2162.5,780.0 L2163.6,777.7 L2164.7,775.4 L2165.8,773.2 L2166.9,770.9 L2168.0,768.6 L2169.2,766.4 L2170.4,764.1 L2171.6,761.9 L2172.8,759.7 L2174.0,757.5 L2175.2,755.3 L2176.5,753.1 L2177.7,750.9 L2179.0,748.7 L2180.3,746.6 L2181.6,744.4 L2182.9,742.3 L2184.3,740.2 L2185.6,738.1 L2187.0,736.0 L2188.4,733.9 L2189.8,731.8 L2191.2,729.8 L2192.6,727.7 L2194.1,725.7 L2195.5,723.7 L2197.0,721.7 L2198.5,719.7 L2200.0,717.7 L2201.5,715.7 L2203.1,713.8 L2204.6,711.8 L2206.2,709.9 L2207.8,707.9 L2209.4,706.0 L2211.0,704.1 L2212.6,702.2 L2214.3,700.4 L2215.9,698.5 L2217.6,696.7 L2219.3,694.8 L2221.0,693.0 L2222.7,691.2 L2224.4,689.4 L2226.2,687.6 L2227.9,685.8 L2229.7,684.1 L2231.5,682.3 L2233.3,680.6 L2235.1,678.9 L2237.0,677.1 L2238.8,675.4 L2240.7,673.8 L2242.5,672.1 L2244.4,670.4 L2246.3,668.8 L2248.3,667.2 L2250.2,665.5 L2252.1,663.9 L2254.1,662.3 L2256.0,660.7 L2258.0,659.2 L2260.0,657.6 L2262.0,656.1 L2264.0,654.5 L2266.0,653.0 L2268.1,651.5 L2270.1,650.0 L2272.1,648.5 L2274.2,647.0 L2276.3,645.6 L2278.3,644.1 L2280.4,642.7 L2282.5,641.2 L2284.6,639.8 L2286.7,638.4 L2288.8,637.0 L2290.9,635.6 L2293.0,634.3 L2295.2,632.9 L2297.3,631.6 L2299.4,630.2 L2301.6,628.9 L2303.7,627.6 L2305.9,626.3 L2308.0,625.0 L2310.2,623.7 L2312.3,622.4 L2314.5,621.2 L2316.7,619.9 L2318.8,618.7 L2321.0,617.4 L2323.2,616.2 L2324.5,561.6 L2325.3,561.6 C2325.5,581.1 2325.7,601.8 2325.8,620.0 C2325.9,635.9 2325.9,650.1 2326.1,664.7 C2326.3,678.6 2326.8,691.9 2327.2,705.5 C2328.9,708.4 2330.5,711.3 2332.2,714.3 C2334.0,717.5 2335.9,720.9 2337.7,724.3 C2339.6,727.9 2341.7,731.5 2343.3,735.4 C2345.0,739.6 2346.0,745.1 2347.7,748.7 C2349.0,751.4 2350.6,753.1 2352.1,755.3 L2353.1,757.8 L2353.8,760.2 L2354.2,762.5 L2354.6,764.8 L2354.9,767.1 L2355.2,769.5 L2355.6,772.1 L2356.1,774.8 L2356.9,777.7 L2357.9,780.0 L2358.9,780.3 L2359.9,778.4 L2360.9,775.3 L2361.8,772.3 L2362.6,769.3 L2363.3,766.5 L2363.9,763.7 L2364.4,761.0 L2364.9,758.4 L2365.3,755.9 L2365.6,753.4 L2365.9,750.9 L2366.2,748.6 L2366.4,746.2 L2366.6,743.9 L2366.7,741.6 L2366.9,739.3 L2367.0,737.0 L2367.1,734.8 L2367.2,732.5 L2367.4,730.2 L2367.5,727.9 L2367.7,725.5 L2367.9,723.2 L2368.1,720.8 L2368.3,718.4 L2368.6,716.0 L2368.8,713.5 L2369.1,711.1 L2369.3,708.6 L2369.6,706.1 L2369.9,703.6 L2370.2,701.1 L2370.5,698.6 L2370.8,696.1 L2371.1,693.5 L2371.4,691.0 L2371.7,688.4 L2372.0,685.9 L2372.3,683.3 L2372.6,680.7 L2372.8,678.2 L2373.1,675.6 L2373.4,673.0 L2373.7,670.4 L2373.9,667.8 L2374.2,665.3 L2374.5,662.7 L2374.7,660.1 L2375.0,657.6 L2375.3,655.0 L2375.6,652.4 L2375.9,649.9 L2376.3,647.4 L2376.6,644.8 L2377.0,642.3 L2377.4,639.8 L2377.9,637.3 L2378.3,634.9 L2378.8,632.4 L2379.4,630.0 L2379.9,627.5 L2380.6,625.1 L2381.2,622.8 L2381.9,620.4 L2382.7,618.1 L2383.5,615.8 L2384.4,613.5 L2385.3,611.2 L2386.3,609.0 L2387.4,606.8 L2388.5,604.6 L2389.7,602.5 L2390.9,600.4 L2392.2,598.3 L2393.6,596.2 L2395.1,594.2 L2396.6,592.2 L2398.2,590.3 L2399.8,588.3 L2401.5,586.4 L2403.2,584.5 L2404.9,582.7 L2406.7,580.8 L2408.5,579.0 L2410.3,577.1 L2412.1,575.3 L2413.9,573.5 L2415.8,571.7 L2417.6,569.9 L2419.4,568.2 L2421.2,566.4 L2422.9,564.6 L2424.7,562.8 L2426.4,561.0 L2428.1,559.2 L2429.7,557.4 L2431.3,555.6 L2432.8,553.8 C2433.7,556.1 2434.2,559.4 2435.6,560.8 C2436.7,561.8 2438.1,562.1 2439.8,562.2 C2442.1,562.4 2445.3,561.3 2448.1,560.8"/>

  <rect class="ax" x="1423.7" y="86.6" width="1030.4" height="830.8"/>

  <g class="tick">
    <line x1="1423.7" y1="324.1" x2="1439.7" y2="324.1"/>
    <line x1="1423.7" y1="561.6" x2="1439.7" y2="561.6"/>
    <line x1="1423.7" y1="799.1" x2="1439.7" y2="799.1"/>
    <line x1="1423.7" y1="205.4" x2="1431.7" y2="205.4"/>
    <line x1="1423.7" y1="442.9" x2="1431.7" y2="442.9"/>
    <line x1="1423.7" y1="680.4" x2="1431.7" y2="680.4"/>
  </g>
  <g class="tick">
    <line x1="1451.4" y1="917.4" x2="1451.4" y2="901.4"/>
    <line x1="1729.9" y1="917.4" x2="1729.9" y2="901.4"/>
    <line x1="2008.4" y1="917.4" x2="2008.4" y2="901.4"/>
    <line x1="2286.9" y1="917.4" x2="2286.9" y2="901.4"/>
    <line x1="1590.7" y1="917.4" x2="1590.7" y2="909.4"/>
    <line x1="1869.2" y1="917.4" x2="1869.2" y2="909.4"/>
    <line x1="2147.7" y1="917.4" x2="2147.7" y2="909.4"/>
    <line x1="2426.2" y1="917.4" x2="2426.2" y2="909.4"/>
  </g>

  <g class="s tk" text-anchor="end">
    <text x="1405.5" y="99.2">2</text>
    <text x="1405.5" y="337">1</text>
    <text x="1406.5" y="574.6">0</text>
    <text x="1405.3" y="812">-1</text>
  </g>
  <g class="s tk" text-anchor="middle">
    <text x="1451.4" y="969">0</text>
    <text x="1729.9" y="969">100</text>
    <text x="2008.4" y="969">200</text>
    <text x="2286.9" y="969">300</text>
  </g>

  <text class="s" x="1926.6" y="1045" font-size="51" text-anchor="middle">Time (min)</text>

  <g transform="translate(2208,168) scale(1,1.03)"><text class="h" x="0" y="0" font-size="43.3">4 ppm NO<tspan font-size="29" dy="11.6" dx="0.6">2</tspan></text></g>
  <g class="s lab">
    <text transform="translate(1485.4,235.7) rotate(-90)">30 <tspan dx="-0.5">°</tspan><tspan dx="-1.5">C</tspan></text>
    <text x="1562.8" y="247.7">50 <tspan dx="-0.5">°</tspan><tspan dx="-1.5">C</tspan></text>
    <text x="1682.3" y="188">75 <tspan dx="-0.5">°</tspan><tspan dx="-1.5">C</tspan></text>
    <text x="1788.5" y="270.7">100 <tspan dx="-0.5">°</tspan><tspan dx="-1.5">C</tspan></text>
    <text x="1934.3" y="403.2">125 <tspan dx="-0.5">°</tspan><tspan dx="-1.5">C</tspan></text>
    <text x="2099.6" y="860.2">150 <tspan dx="-0.5">°</tspan><tspan dx="-1.5">C</tspan></text>
    <text x="2323" y="825.1">175 <tspan dx="-0.5">°</tspan><tspan dx="-1.5">C</tspan></text>
  </g>
  <text class="s red" x="2120" y="476.6" font-size="52" letter-spacing="-0.45">p-type</text>
  <text class="s red" x="1894.5" y="725.8" font-size="52" letter-spacing="-0.45">n-type</text>
  <text class="s" x="1573.7" y="811" font-size="45">ZnO-0.8 rGO</text>
  <rect x="1573.5" y="815.7" width="260.5" height="3.2" fill="#111111"/>

  <!-- Air in (teal arrow) -->
  <line x1="1538.5" y1="207.5" x2="1488" y2="258.5" stroke="#008a5c" stroke-width="3.9" stroke-linecap="round"/>
  <polygon points="1471.9,275.3 1485.7,252.5 1496.1,260.8" fill="#008a5c"/>
  <text class="s grn" x="1528" y="191" font-size="31">Air in</text>

  <!-- Gas in -->
  <line x1="1450.2" y1="645" x2="1450.2" y2="588" stroke="#008a5c" stroke-width="3.9" stroke-linecap="round"/>
  <polygon points="1450.1,562.6 1442.6,591 1457.6,591" fill="#008a5c"/>
  <text class="s grn" x="1441.5" y="678.9" font-size="31">Gas in</text>
</g>

<!-- crop of the bottom edge (descenders clipped in original) -->
<rect x="540" y="1045.8" width="320" height="37.2" fill="#ffffff"/>
<rect x="1770" y="1049.3" width="320" height="33.7" fill="#ffffff"/>
</svg>
</body>
</html>
